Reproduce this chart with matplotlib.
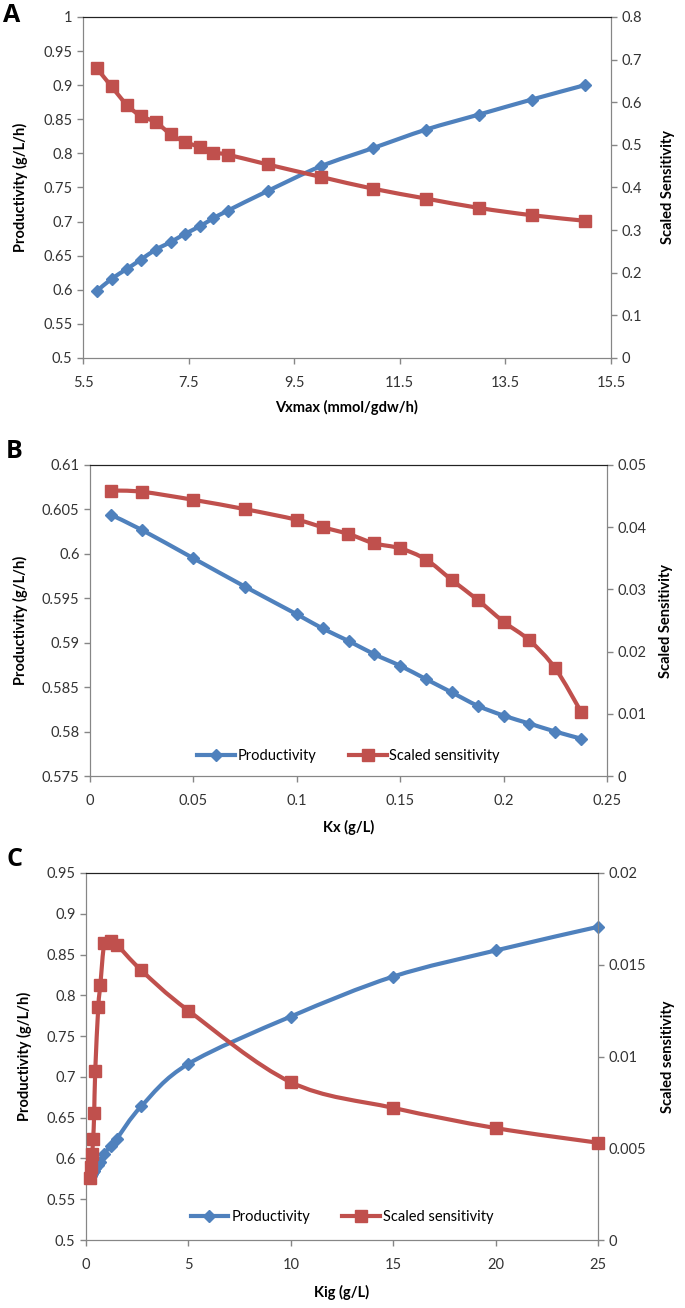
import numpy as np
import matplotlib
matplotlib.use("Agg")
import matplotlib.pyplot as plt
from matplotlib.path import Path
from matplotlib.patches import PathPatch
from matplotlib.lines import Line2D

plt.rcParams['font.family'] = ['Lato', 'DejaVu Sans']

BLUE = '#4F81BD'
RED = '#C0504D'
GRAY = '#868686'

# ---- panel A: Vxmax ----
vx = [5.76, 6.04, 6.33, 6.59, 6.88, 7.16, 7.43, 7.71, 7.97, 8.24, 9.0, 10.0, 11.0, 12.0, 13.0, 14.0, 15.0]
prod_a = [0.598, 0.616, 0.6305, 0.644, 0.659, 0.670, 0.682, 0.693, 0.705, 0.716, 0.745, 0.781, 0.808, 0.835, 0.857, 0.879, 0.900]
sens_a = [0.680, 0.637, 0.594, 0.568, 0.553, 0.525, 0.507, 0.495, 0.482, 0.477, 0.454, 0.425, 0.397, 0.374, 0.352, 0.335, 0.322]

# ---- panel B: Kx ----
kx = [0.01, 0.025, 0.05, 0.075, 0.1, 0.1125, 0.125, 0.1375, 0.15, 0.1625, 0.175, 0.1875, 0.2, 0.2125, 0.225, 0.2375]
prod_b = [0.6044, 0.6027, 0.5995, 0.5963, 0.5932, 0.5916, 0.5902, 0.5887, 0.5874, 0.5859, 0.5844, 0.5829, 0.5818, 0.5809, 0.5800, 0.5792]
sens_b = [0.0459, 0.0457, 0.0444, 0.0429, 0.0412, 0.0400, 0.0389, 0.0374, 0.0366, 0.0348, 0.0315, 0.0283, 0.0248, 0.0218, 0.0173, 0.0103]

# ---- panel C: Kig ----
kig = [0.2, 0.25, 0.3, 0.35, 0.4, 0.45, 0.6, 0.7, 0.9, 1.2, 1.5, 2.7, 5, 10, 15, 20, 25]
prod_c = [0.5777, 0.579, 0.581, 0.583, 0.585, 0.588, 0.592, 0.596, 0.606, 0.615, 0.624, 0.664, 0.716, 0.774, 0.823, 0.855, 0.884]
sens_c = [0.0034, 0.0040, 0.0047, 0.0055, 0.0069, 0.0092, 0.0127, 0.0139, 0.0162, 0.0163, 0.0161, 0.0147, 0.0125, 0.0086, 0.0072, 0.0061, 0.0053]

W, H = 685, 1308
LW = 3.0
MS_D, MS_S = 6.5, 8.5


def smooth_path(x, y):
    pts = np.column_stack([x, y]).astype(float)
    n = len(pts)
    verts = [pts[0]]
    codes = [Path.MOVETO]
    for i in range(n - 1):
        p0 = pts[max(i - 1, 0)]
        p1 = pts[i]
        p2 = pts[i + 1]
        p3 = pts[min(i + 2, n - 1)]
        verts += [p1 + (p2 - p0) / 6, p2 - (p3 - p1) / 6, p2]
        codes += [Path.CURVE4] * 3
    return Path(verts, codes)


def series(ax, x, y, color, marker, ms):
    ax.add_patch(PathPatch(smooth_path(x, y), fill=False, edgecolor=color, lw=LW,
                           capstyle='round', joinstyle='round', zorder=3))
    ax.plot(x, y, linestyle='none', marker=marker, ms=ms, color=color,
            markeredgecolor=color, zorder=4, clip_on=False)


def style(ax, ax2):
    for a in (ax, ax2):
        for s in a.spines.values():
            s.set_color(GRAY)
        a.spines['top'].set_color('#222222')
        a.tick_params(direction='out', length=4, color=GRAY, labelsize=10.5,
                      labelcolor='#333333', width=1)
    ax.tick_params(axis='x', pad=9)


def panel(rect, letter, letter_xy, x, p, s, xlim, xticks, ylim, yticks, y2lim, y2ticks,
          xlab, y2lab, labels_px, legend_y=None):
    l, r, t, b = rect
    ax = fig.add_axes([l / W, 1 - b / H, (r - l) / W, (b - t) / H])
    ax2 = ax.twinx()
    series(ax, x, p, BLUE, 'D', MS_D)
    series(ax2, x, s, RED, 's', MS_S)
    ax.set_xlim(*xlim)
    ax.set_ylim(*ylim)
    ax2.set_ylim(*y2lim)
    ax.set_xticks(xticks)
    ax.set_xticklabels(['%g' % v for v in xticks])
    ax.set_yticks(yticks)
    ax.set_yticklabels(['%g' % v for v in yticks])
    ax2.set_yticks(y2ticks)
    ax2.set_yticklabels(['%g' % v for v in y2ticks])
    style(ax, ax2)

    fig.text(letter_xy[0] / W, 1 - letter_xy[1] / H, letter, fontsize=18,
             fontweight='bold', family=['Open Sans', 'DejaVu Sans'], ha='center', va='center')
    lx, rx, xy = labels_px
    cy = 1 - (t + b) / 2 / H
    fig.text(lx / W, cy, 'Productivity (g/L/h)', rotation=90, ha='center', va='center',
             fontsize=10.5, fontweight='bold')
    fig.text(rx / W, cy, y2lab, rotation=90, ha='center', va='center',
             fontsize=10.5, fontweight='bold')
    fig.text((l + r) / 2 / W, 1 - xy / H, xlab, ha='center', va='center',
             fontsize=10.5, fontweight='bold')

    if legend_y is not None:
        handles = [Line2D([], [], color=BLUE, lw=LW, marker='D', ms=MS_D),
                   Line2D([], [], color=RED, lw=LW, marker='s', ms=MS_S)]
        ax2.legend(handles, ['Productivity', 'Scaled sensitivity'], loc='center',
                   bbox_to_anchor=(0.5, legend_y), ncol=2, frameon=False, fontsize=10.5,
                   handlelength=2.6, handletextpad=0.2, columnspacing=2.2)
    return ax, ax2


fig = plt.figure(figsize=(W / 100, H / 100), dpi=100)

panel((83, 611, 17, 358), 'A', (12, 16), vx, prod_a, sens_a,
      (5.5, 15.5), [5.5, 7.5, 9.5, 11.5, 13.5, 15.5],
      (0.5, 1.0), [0.5, 0.55, 0.6, 0.65, 0.7, 0.75, 0.8, 0.85, 0.9, 0.95, 1.0],
      (0, 0.8), [0, 0.1, 0.2, 0.3, 0.4, 0.5, 0.6, 0.7, 0.8],
      'Vxmax (mmol/gdw/h)', 'Scaled Sensitivity', (20, 668, 407))

panel((90, 607, 465, 776), 'B', (14, 452), kx, prod_b, sens_b,
      (0, 0.25), [0, 0.05, 0.1, 0.15, 0.2, 0.25],
      (0.575, 0.61), [0.575, 0.58, 0.585, 0.59, 0.595, 0.6, 0.605, 0.61],
      (0, 0.05), [0, 0.01, 0.02, 0.03, 0.04, 0.05],
      'Kx (g/L)', 'Scaled Sensitivity', (20, 666, 827), legend_y=0.064)

panel((86, 598, 873, 1240), 'C', (15, 860), kig, prod_c, sens_c,
      (0, 25), [0, 5, 10, 15, 20, 25],
      (0.5, 0.95), [0.5, 0.55, 0.6, 0.65, 0.7, 0.75, 0.8, 0.85, 0.9, 0.95],
      (0, 0.02), [0, 0.005, 0.01, 0.015, 0.02],
      'Kig (g/L)', 'Scaled sensitivity', (24, 668, 1292), legend_y=0.063)

fig.savefig('out.png', dpi=100)
